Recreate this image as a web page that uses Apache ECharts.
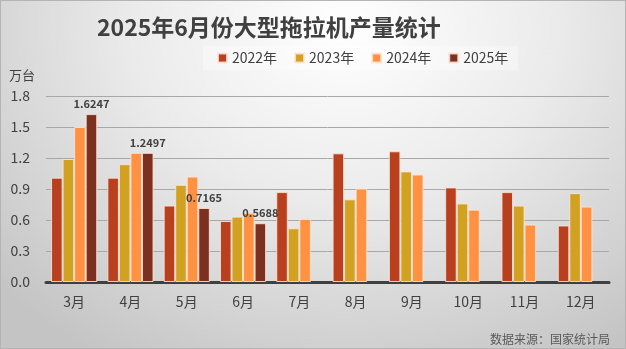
<!DOCTYPE html>
<html><head><meta charset="utf-8">
<script src="https://cdn.jsdelivr.net/npm/echarts@6/dist/echarts.min.js"></script>
<style>
html,body{margin:0;padding:0;}
#c{width:626px;height:349px;box-shadow:inset 0 0 0 1px #b4b4b4;
background:radial-gradient(ellipse 75% 110% at 55% 8%, #ffffff 0%, #ebebeb 45%, #c4c4c4 100%);}
</style></head>
<body><div id="c"></div>
<script>
const months = ['3月','4月','5月','6月','7月','8月','9月','10月','11月','12月'];
const seriesNames = ['2022年','2023年','2024年','2025年'];
const v2022 = [1.01,1.01,0.74,0.59,0.87,1.245,1.265,0.915,0.87,0.547];
const v2023 = [1.19,1.14,0.94,0.633,0.52,0.80,1.07,0.76,0.74,0.86];
const v2024 = [1.50,1.25,1.02,0.67,0.61,0.905,1.04,0.70,0.556,0.73];
const v2025 = [1.6247,1.2497,0.7165,0.5688,null,null,null,null,null,null];
const yTicks = [0,0.3,0.6,0.9,1.2,1.5,1.8];
const colors = ['#B8401F','#D1A121','#FF9142','#7B3020'];
const font = '"Noto Sans CJK SC","Noto Sans",sans-serif';

const chart = echarts.init(document.getElementById('c'), null, {renderer:'canvas'});
const allVals = [v2022,v2023,v2024,v2025];
chart.setOption({
  animation:false,
  textStyle:{fontFamily:font},
  title:{text:'2025年6月份大型拖拉机产量统计',left:92,top:11,
    textStyle:{fontSize:23,fontWeight:'bold',color:'#404040',fontFamily:font}},
  legend:{data:seriesNames,left:203,top:46,icon:'rect',itemWidth:9,itemHeight:9,itemGap:17,
    backgroundColor:'rgba(255,255,255,0.35)',padding:[5,10,5,14],
    textStyle:{fontSize:14,color:'#404040',fontFamily:font}},
  grid:{left:46,right:17,top:96,bottom:67,containLabel:false},
  xAxis:{type:'category',data:months,
    axisLine:{lineStyle:{color:'#404040',width:3}},
    axisTick:{show:false},
    axisLabel:{fontSize:14,color:'#404040',margin:13,fontFamily:font}},
  yAxis:{type:'value',min:yTicks[0],max:yTicks[yTicks.length-1],interval:0.3,
    name:'万台',nameLocation:'end',nameGap:14,
    nameTextStyle:{fontSize:13,color:'#404040',align:'right',padding:[0,11,0,0],fontFamily:font},
    axisLine:{show:false},axisTick:{show:false},
    axisLabel:{fontSize:14,color:'#404040',margin:16,formatter:v=>v.toFixed(1),fontFamily:font},
    splitLine:{lineStyle:{color:'#a8a8a8',width:1}}},
  series: seriesNames.map((n,i)=>({
    name:n,type:'bar',data:allVals[i],barGap:'0%',barCategoryGap:'18%',
    itemStyle:{color:colors[i],borderColor:'rgba(255,228,215,0.85)',borderWidth:1},
    label:{show:i===3,position:'top',distance:5,fontSize:11,fontWeight:'bold',color:'#404040',fontFamily:font,
      formatter:p=>p.value==null?'':String(p.value)}
  })),
  graphic:[{type:'text',right:16,bottom:4,style:{text:'数据来源：国家统计局',fontSize:12,fill:'#595959',fontFamily:font}}]
});
</script></body></html>
